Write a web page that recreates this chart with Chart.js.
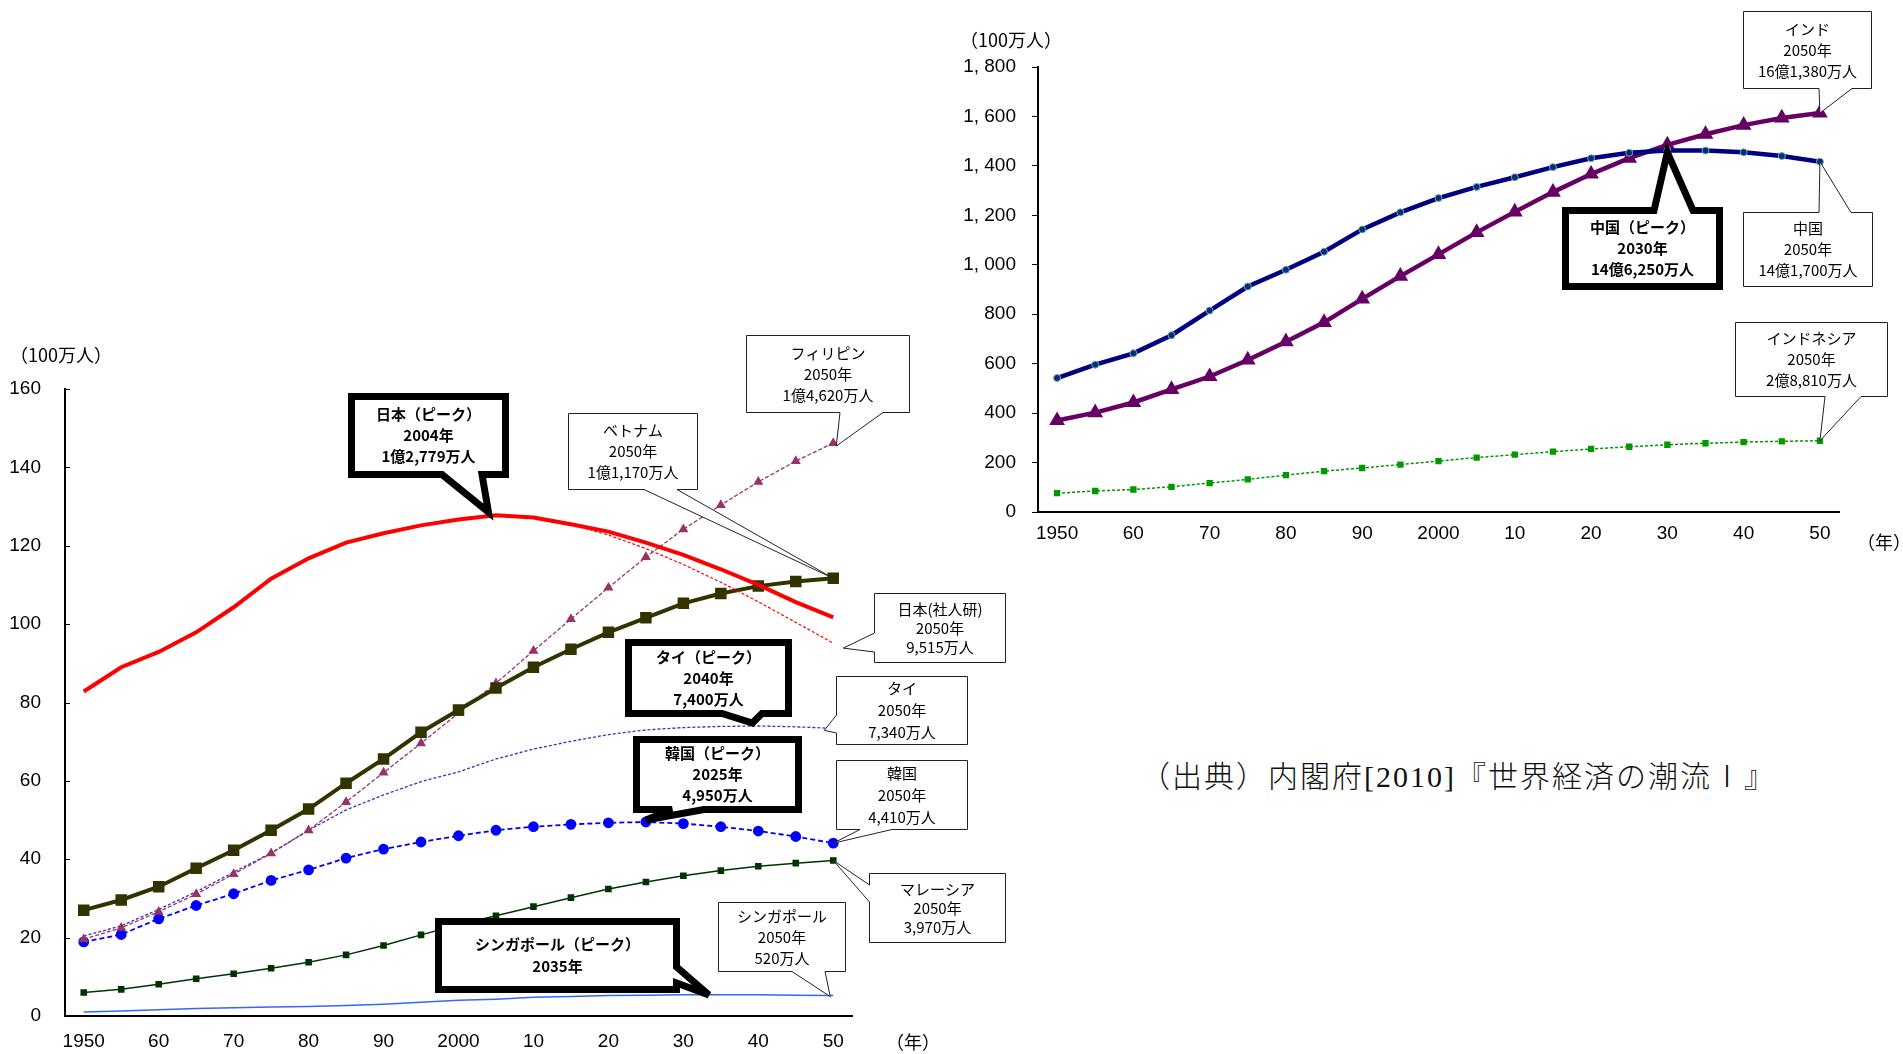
<!DOCTYPE html>
<html lang="ja">
<head>
<meta charset="utf-8">
<title>アジア各国の人口推移</title>
<script src="https://cdn.jsdelivr.net/npm/chart.js@4.4.1/dist/chart.umd.min.js"></script>
<style>
  html, body { margin: 0; padding: 0; background: #fff; width: 1903px; height: 1054px; overflow: hidden; }
  #asia { position: absolute; left: 0; top: 320px; }
  #big { position: absolute; left: 960px; top: 0; }
  #source {
    position: absolute; left: 1140px; top: 752px;
    font-family: "Liberation Serif", "Noto Sans CJK JP", serif;
    font-weight: 300; font-size: 30px; letter-spacing: 2px; color: #111; white-space: nowrap;
  }
</style>
</head>
<body>
<canvas id="asia" width="1040" height="734"></canvas>
<canvas id="big" width="943" height="560"></canvas>
<div id="source">（出典）内閣府[2010]『世界経済の潮流Ⅰ』</div>
<script>
// 5-year steps, 1950-2050 (2010 onward: projections)
const years = [1950, 1955, 1960, 1965, 1970, 1975, 1980, 1985, 1990, 1995, 2000,
               2005, 2010, 2015, 2020, 2025, 2030, 2035, 2040, 2045, 2050];
const decadeLabels = ['1950', '60', '70', '80', '90', '2000', '10', '20', '30', '40', '50'];
const asiaTickLabels = ['0', '20', '40', '60', '80', '100', '120', '140', '160'];
const bigTickLabels = ['0', '200', '400', '600', '800', '1, 000', '1, 200', '1, 400', '1, 600', '1, 800'];

// population, millions
const japan = [82.8, 89.0, 92.9, 97.9, 104.3, 111.6, 116.8, 120.8, 123.2, 125.2, 126.7,
               127.77, 127.2, 125.5, 123.6, 120.8, 117.7, 114.0, 110.0, 105.6, 101.7];
// IPSS projection, 2005-2050
const japanIPSS = [127.77, 127.18, 125.43, 122.74, 119.27, 115.22, 110.68, 105.70, 100.44, 95.15];
const japanPeakYear = 2004;
const japanPeakValue = 127.79;
const philippines = [19.6, 22.5, 26.6, 31.1, 36.2, 41.5, 47.4, 54.6, 62.1, 69.6, 77.3,
                     84.9, 93.2, 101.3, 109.3, 117.1, 124.2, 130.4, 136.3, 141.6, 146.2];
const vietnam = [27.0, 29.6, 33.0, 37.7, 42.3, 47.4, 52.8, 59.4, 65.6, 72.4, 78.1,
                 83.7, 89.0, 93.6, 97.9, 101.6, 105.3, 107.8, 109.7, 110.9, 111.7];
const thailand = [20.4, 23.0, 27.2, 31.7, 36.7, 41.6, 47.4, 52.6, 56.4, 59.8, 62.3,
                  65.6, 68.1, 70.1, 71.8, 73.0, 73.6, 73.9, 74.0, 73.8, 73.4];
const korea = [18.9, 20.8, 24.8, 28.2, 31.2, 34.6, 37.3, 40.3, 42.6, 44.4, 46.0,
               47.4, 48.3, 48.9, 49.3, 49.5, 49.1, 48.3, 47.2, 45.8, 44.1];
const malaysia = [6.0, 6.8, 8.1, 9.5, 10.8, 12.2, 13.7, 15.6, 18.0, 20.7, 23.3,
                  25.6, 27.9, 30.2, 32.4, 34.2, 35.8, 37.1, 38.2, 39.0, 39.7];
const singapore = [1.0, 1.3, 1.6, 1.9, 2.1, 2.3, 2.4, 2.7, 3.0, 3.5, 4.0,
                   4.3, 4.8, 5.0, 5.2, 5.3, 5.4, 5.4, 5.4, 5.3, 5.2];
const china = [542, 596, 642, 715, 815, 912, 980, 1053, 1143, 1212, 1270,
               1315, 1354, 1395, 1431, 1453, 1462.5, 1462, 1455, 1440, 1417];
const india = [370, 402, 443, 496, 548, 615, 689, 767, 862, 954, 1042,
               1131, 1214, 1294, 1367, 1431, 1485, 1528, 1565, 1594, 1613.8];
const indonesia = [76, 85, 91, 102, 117, 132, 149, 165, 178, 192, 206,
                   220, 232, 244, 255, 264, 272, 278, 283, 286, 288.1];

const TICK_FONT = "'Liberation Sans Narrow', 'Liberation Sans', 'Noto Sans CJK JP', sans-serif";
const JP_FONT = "'Noto Sans CJK JP', sans-serif";

function pts(vals, from) {
  const start = from === undefined ? 0 : years.indexOf(from);
  return vals.map((v, i) => ({ x: years[start + i], y: v }));
}
const last = a => a[a.length - 1];

// callout balloons: box = outer rectangle in canvas px, tip follows a data point
function drawCallout(chart, c) {
  const ctx = chart.ctx;
  const xs = chart.scales.x, ys = chart.scales.y;
  const n = c.nudge || [0, 0];
  const tip = [xs.getPixelForValue(c.at[0]) + n[0], ys.getPixelForValue(c.at[1]) + n[1]];
  const lw = c.bold ? 7 : 1;
  const h = c.bold ? lw / 2 : 0.5;
  const x1 = c.box[0] + h, y1 = c.box[1] + h, x2 = c.box[2] - h, y2 = c.box[3] - h;
  const [b1, b2] = c.base;
  let p;
  if (c.edge === 'bottom') p = [[x1, y1], [x2, y1], [x2, y2], [b2, y2], tip, [b1, y2], [x1, y2]];
  else if (c.edge === 'top') p = [[x1, y1], [b1, y1], tip, [b2, y1], [x2, y1], [x2, y2], [x1, y2]];
  else if (c.edge === 'left') p = [[x1, y1], [x2, y1], [x2, y2], [x1, y2], [x1, b2], tip, [x1, b1]];
  else p = [[x1, y1], [x2, y1], [x2, b1], tip, [x2, b2], [x2, y2], [x1, y2]];
  ctx.save();
  ctx.beginPath();
  p.forEach((q, i) => i ? ctx.lineTo(q[0], q[1]) : ctx.moveTo(q[0], q[1]));
  ctx.closePath();
  ctx.fillStyle = '#fff';
  ctx.fill();
  ctx.lineWidth = lw;
  ctx.lineJoin = 'miter';
  ctx.miterLimit = 4;
  ctx.strokeStyle = c.bold ? '#000' : '#222';
  ctx.stroke();
  ctx.fillStyle = '#000';
  ctx.textAlign = 'center';
  ctx.textBaseline = 'middle';
  ctx.font = (c.bold ? 'bold 15px ' : '15px ') + JP_FONT;
  const lh = c.lh || 21;
  const cx = (c.box[0] + c.box[2]) / 2;
  const cy = (c.box[1] + c.box[3]) / 2 + (c.dy || 0);
  c.lines.forEach((t, i) => ctx.fillText(t, cx, cy + (i - (c.lines.length - 1) / 2) * lh));
  ctx.restore();
}

function drawText(ctx, t, x, y, size) {
  ctx.save();
  ctx.font = size + 'px ' + JP_FONT;
  ctx.fillStyle = '#000';
  ctx.textAlign = 'left';
  ctx.textBaseline = 'middle';
  ctx.fillText(t, x, y);
  ctx.restore();
}

const calloutPlugin = {
  id: 'callouts',
  afterDatasetsDraw(chart, args, opts) {
    (opts.items || []).forEach(c => drawCallout(chart, c));
  },
  afterDraw(chart, args, opts) {
    const ctx = chart.ctx;
    if (opts.inwardTicks) {
      const ys = chart.scales.y;
      ctx.save();
      ctx.strokeStyle = '#000';
      ctx.lineWidth = 1;
      ys.ticks.forEach(t => {
        const y = Math.round(ys.getPixelForValue(t.value)) + 0.5;
        ctx.beginPath();
        ctx.moveTo(ys.right, y);
        ctx.lineTo(ys.right + 5, y);
        ctx.stroke();
      });
      ctx.restore();
    }
    (opts.texts || []).forEach(t => drawText(ctx, t.text, t.x, t.y, t.size));
  }
};

function xScale(height, pad) {
  return {
    type: 'linear', min: 1947.5, max: 2052.5,
    afterBuildTicks: s => { s.ticks = decadeLabels.map((_, i) => ({ value: 1950 + i * 10 })); },
    afterFit: s => { s.height = height; },
    ticks: { callback: v => decadeLabels[(v - 1950) / 10], color: '#000', padding: pad, maxRotation: 0, autoSkip: false,
             font: { family: TICK_FONT, size: 19 } },
    grid: { display: true, drawOnChartArea: false, drawTicks: false },
    border: { display: true, color: '#000', width: 2 }
  };
}

function baseLine(label, data, color, width, extra) {
  return Object.assign({
    label, data, borderColor: color, backgroundColor: color, borderWidth: width,
    pointRadius: 0, tension: 0, fill: false, spanGaps: false
  }, extra || {});
}

// ---- ASEAN + Japan / Korea ----
new Chart(document.getElementById('asia'), {
  type: 'line',
  data: {
    datasets: [
      baseLine('日本', pts(japan), '#ff0000', 4),
      baseLine('日本（社人研）', pts(japanIPSS, 2005), '#ff0000', 1.2, { borderDash: [3, 2] }),
      baseLine('ベトナム', pts(vietnam), '#333300', 4, { pointStyle: 'rect', pointRadius: 5.3 }),
      baseLine('フィリピン', pts(philippines), '#993366', 1.3, { borderDash: [4, 2], pointStyle: 'triangle', pointRadius: 4.5 }),
      baseLine('タイ', pts(thailand), '#3333bb', 1.3, { borderDash: [3, 2] }),
      baseLine('韓国', pts(korea), '#0000ff', 1.8, { borderDash: [5, 3], pointStyle: 'circle', pointRadius: 4.5 }),
      baseLine('マレーシア', pts(malaysia), '#003300', 1.5, { pointStyle: 'rect', pointRadius: 3.6 }),
      baseLine('シンガポール', pts(singapore), '#3366ff', 1.5)
    ]
  },
  options: {
    responsive: false, animation: false, devicePixelRatio: 1,
    layout: { padding: { left: 0, top: 69, right: 188, bottom: 0 } },
    plugins: {
      legend: { display: false }, tooltip: { enabled: false },
      callouts: {
        inwardTicks: true,
        texts: [
          { text: '（100万人）', x: 10, y: 35, size: 18 },
          { text: '（年）', x: 886, y: 722, size: 18 }
        ],
        items: [
          { lines: ['日本（ピーク）', japanPeakYear + '年', '1億2,779万人'], bold: true,
            box: [348, 73, 509, 158], edge: 'bottom', base: [442, 482], at: [japanPeakYear, japanPeakValue], nudge: [0, -3] },
          { lines: ['フィリピン', '2050年', '1億4,620万人'],
            box: [746, 15, 910, 93], edge: 'bottom', base: [840, 883], at: [2050, last(philippines)], nudge: [3, 3] },
          { lines: ['ベトナム', '2050年', '1億1,170万人'],
            box: [568, 93, 698, 170], edge: 'bottom', base: [644, 677], at: [2050, last(vietnam)] },
          { lines: ['日本(社人研)', '2050年', '9,515万人'], lh: 19,
            box: [874, 273, 1006, 343], edge: 'left', base: [313, 332], at: [2050, last(japanIPSS)], nudge: [10, 5] },
          { lines: ['タイ（ピーク）', '2040年', '7,400万人'], bold: true,
            box: [625, 319, 792, 397], edge: 'bottom', base: [722, 762], at: [2040, 74.0], nudge: [-6, -3] },
          { lines: ['タイ', '2050年', '7,340万人'], lh: 22,
            box: [836, 356, 968, 425], edge: 'left', base: [395, 413], at: [2050, last(thailand)], nudge: [-9, 2] },
          { lines: ['韓国（ピーク）', '2025年', '4,950万人'], bold: true,
            box: [633, 416, 802, 493], edge: 'bottom', base: [672, 704], at: [2025, 49.5], nudge: [0, -2] },
          { lines: ['韓国', '2050年', '4,410万人'], lh: 22,
            box: [836, 440, 968, 510], edge: 'bottom', base: [860, 892], at: [2050, last(korea)] },
          { lines: ['マレーシア', '2050年', '3,970万人'], lh: 19,
            box: [869, 553, 1006, 623], edge: 'left', base: [565, 582], at: [2050, last(malaysia)] },
          { lines: ['シンガポール', '2050年', '520万人'],
            box: [718, 582, 846, 652], edge: 'bottom', base: [792, 825], at: [2050, last(singapore)], nudge: [-3, 1] },
          { lines: ['シンガポール（ピーク）', '2035年'], lh: 22, bold: true,
            box: [435, 598, 680, 673], edge: 'right', base: [647, 663], at: [2035, 5.4], nudge: [-12, 0] }
        ]
      }
    },
    scales: {
      x: xScale(38, 14),
      y: {
        type: 'linear', min: 0, max: 160,
        afterFit: s => { s.width = 65; },
        afterBuildTicks: s => { s.ticks = asiaTickLabels.map((_, i) => ({ value: i * 20 })); },
        ticks: { callback: (v) => asiaTickLabels[v / 20], color: '#000', padding: 24,
                 font: { family: TICK_FONT, size: 19 } },
        grid: { display: true, drawOnChartArea: false, drawTicks: false },
        border: { display: true, color: '#000', width: 2 }
      }
    }
  },
  plugins: [calloutPlugin]
});

// ---- China / India / Indonesia ----
new Chart(document.getElementById('big'), {
  type: 'line',
  data: {
    datasets: [
      baseLine('中国', pts(china), '#000080', 4.5, { pointStyle: 'circle', pointRadius: 3.5,
        pointBackgroundColor: '#003366', pointBorderColor: '#7f9fcf', pointBorderWidth: 1 }),
      baseLine('インド', pts(india), '#660066', 4.5, { pointStyle: 'triangle', pointRadius: 4.6 }),
      baseLine('インドネシア', pts(indonesia), '#009900', 1.5, { borderDash: [3, 2], pointStyle: 'rect', pointRadius: 3.4 })
    ]
  },
  options: {
    responsive: false, animation: false, devicePixelRatio: 1,
    layout: { padding: { left: 0, top: 67, right: 64, bottom: 0 } },
    plugins: {
      legend: { display: false }, tooltip: { enabled: false },
      callouts: {
        texts: [
          { text: '（100万人）', x: 0, y: 40, size: 18 },
          { text: '（年）', x: 897, y: 542, size: 18 }
        ],
        items: [
          { lines: ['インド', '2050年', '16億1,380万人'],
            box: [783, 11, 912, 89], edge: 'bottom', base: [859, 892], at: [2050, last(india)] },
          { lines: ['中国（ピーク）', '2030年', '14億6,250万人'], bold: true,
            box: [602, 207, 763, 290], edge: 'top', base: [694, 733], at: [2030, 1462.5], nudge: [0, 2] },
          { lines: ['中国', '2050年', '14億1,700万人'],
            box: [783, 212, 913, 287], edge: 'top', base: [859, 891], at: [2050, last(china)] },
          { lines: ['インドネシア', '2050年', '2億8,810万人'],
            box: [775, 322, 928, 397], edge: 'bottom', base: [865, 901], at: [2050, last(indonesia)] }
        ]
      }
    },
    scales: {
      x: xScale(48, 10),
      y: {
        type: 'linear', min: 0, max: 1800,
        afterFit: s => { s.width = 78; },
        afterBuildTicks: s => { s.ticks = bigTickLabels.map((_, i) => ({ value: i * 200 })); },
        ticks: { callback: (v) => bigTickLabels[v / 200], color: '#000', padding: 16,
                 font: { family: TICK_FONT, size: 19 } },
        grid: { display: true, drawOnChartArea: false, drawTicks: true, tickLength: 6, color: '#000', lineWidth: 1 },
        border: { display: true, color: '#000', width: 2 }
      }
    }
  },
  plugins: [calloutPlugin]
});
</script>
</body>
</html>
